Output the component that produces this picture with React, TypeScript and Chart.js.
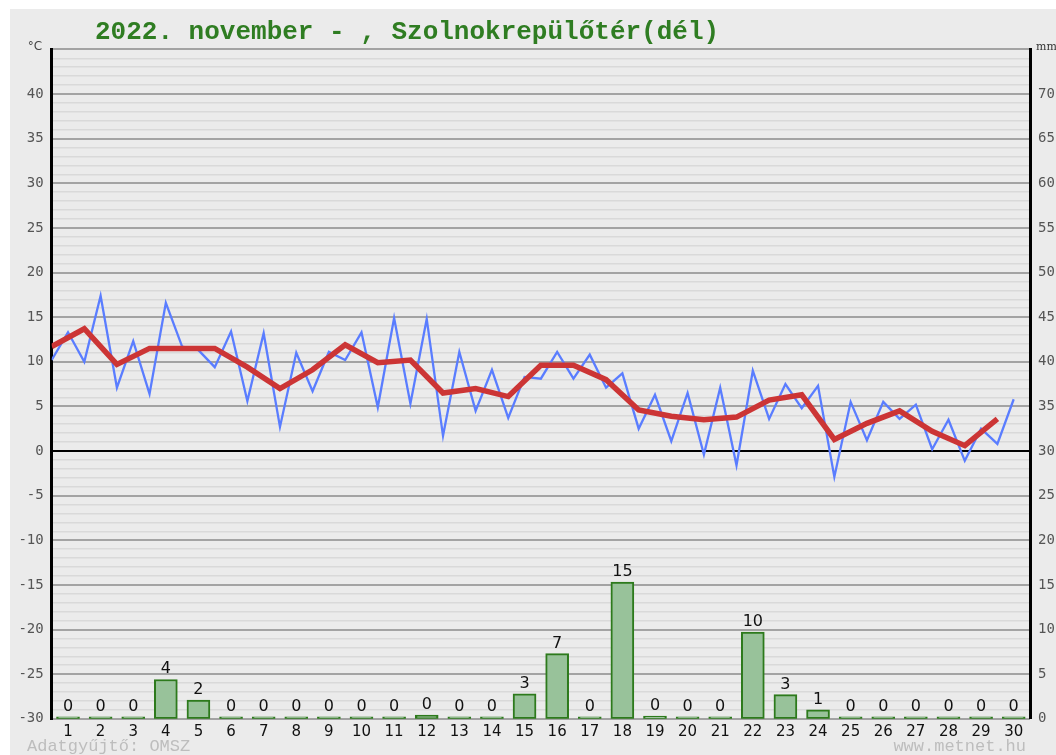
import React, { useEffect, useRef } from "react";
import { Chart, registerables } from "chart.js";

Chart.register(...registerables);

const titleText = "2022. november - , Szolnokrepülőtér(dél)";
const leftUnit = "°C";
const rightUnit = "mm";
const sourceText = "Adatgyűjtő: OMSZ";
const siteText = "www.metnet.hu";

const dayLabels = [
  "1", "2", "3", "4", "5", "6", "7", "8", "9", "10",
  "11", "12", "13", "14", "15", "16", "17", "18", "19", "20",
  "21", "22", "23", "24", "25", "26", "27", "28", "29", "30",
];

// daily mean temperature (°C), one value per day (plotted at day start)
const dailyMeanTemp = [
  11.7, 13.7, 9.7, 11.5, 11.5, 11.5, 9.4, 7.0, 9.1, 11.9,
  9.9, 10.2, 6.5, 7.0, 6.1, 9.6, 9.6, 8.0, 4.6, 3.9,
  3.5, 3.8, 5.7, 6.3, 1.3, 3.1, 4.5, 2.2, 0.6, 3.6,
];

// temperature every half day (°C), alternating night / day readings
const halfDailyTemp = [
  10.2, 13.3, 10.0, 17.4, 7.1, 12.3, 6.4, 16.6, 11.7, 11.3,
  9.4, 13.4, 5.6, 13.2, 2.7, 11.0, 6.7, 11.1, 10.2, 13.3,
  4.9, 14.9, 5.3, 14.8, 1.7, 11.1, 4.5, 9.1, 3.7, 8.3,
  8.1, 11.1, 8.1, 10.8, 7.1, 8.7, 2.5, 6.3, 1.1, 6.5,
  -0.4, 7.1, -1.6, 9.0, 3.6, 7.5, 4.8, 7.3, -2.9, 5.5,
  1.2, 5.5, 3.6, 5.2, 0.2, 3.5, -1.1, 2.5, 0.8, 5.8,
];

// daily precipitation (mm)
const precipitation = [
  0, 0, 0.2, 4.4, 2.1, 0, 0.2, 0.2, 0, 0,
  0, 0.4, 0, 0, 2.8, 7.3, 0, 15.3, 0.3, 0,
  0, 9.7, 2.7, 1.0, 0, 0, 0, 0, 0, 0,
];

const textPlugin = {
  id: "extraTexts",
  afterDatasetsDraw(chart: any) {
    const ctx = chart.ctx;
    const meta = chart.getDatasetMeta(2);
    ctx.save();
    ctx.fillStyle = "#111";
    ctx.font = "16px 'DejaVu Sans', sans-serif";
    ctx.textAlign = "center";
    ctx.textBaseline = "alphabetic";
    meta.data.forEach((el: any, i: number) => {
      ctx.fillText(String(Math.round(precipitation[i])), el.x, el.y - 6);
    });
    ctx.restore();
  },
  afterDraw(chart: any) {
    const ctx = chart.ctx;
    const w = chart.width;
    ctx.save();
    ctx.textBaseline = "alphabetic";
    ctx.textAlign = "left";
    ctx.fillStyle = "#2f7d22";
    ctx.font = "bold 26px 'Liberation Mono', monospace";
    ctx.fillText(titleText, 85, 30);

    ctx.fillStyle = "#444";
    ctx.font = "12px 'DejaVu Sans', sans-serif";
    ctx.textAlign = "center";
    ctx.fillText(leftUnit, 25, 41);

    ctx.textAlign = "left";
    ctx.font = "11px 'DejaVu Serif', serif";
    ctx.fillStyle = "#333";
    ctx.fillText(rightUnit, 1026, 41);

    ctx.fillStyle = "#bdbdbd";
    ctx.font = "17px 'Liberation Mono', monospace";
    ctx.textAlign = "left";
    ctx.fillText(sourceText, 17, 742);
    ctx.textAlign = "right";
    ctx.fillText(siteText, w - 30, 742);
    ctx.restore();
  },
};

export default function App() {
  const canvasRef = useRef<HTMLCanvasElement | null>(null);

  useEffect(() => {
    if (!canvasRef.current) return;
    const chart = new Chart(canvasRef.current, {
      type: "line",
      data: {
        datasets: [
          {
            type: "line",
            data: dailyMeanTemp.map((v, i) => ({ x: i, y: v })),
            borderColor: "#cc3535",
            borderWidth: 5.5,
            pointRadius: 0,
            tension: 0,
            xAxisID: "x",
            yAxisID: "y",
          },
          {
            type: "line",
            data: halfDailyTemp.map((v, i) => ({ x: i / 2, y: v })),
            borderColor: "#5a7dff",
            borderWidth: 2.3,
            pointRadius: 0,
            tension: 0,
            xAxisID: "x",
            yAxisID: "y",
          },
          {
            type: "bar",
            data: precipitation.map((v, i) => ({ x: i + 0.5, y: v })),
            backgroundColor: "#98c29a",
            borderColor: "#2d7a1c",
            borderWidth: 2,
            borderSkipped: false,
            minBarLength: 2,
            barThickness: 23,
            xAxisID: "x",
            yAxisID: "y2",
          } as any,
        ],
      },
      options: {
        animation: false,
        responsive: true,
        maintainAspectRatio: false,
        devicePixelRatio: 1,
        events: [],
        layout: { padding: { top: 40.4, left: 0, right: 0, bottom: 0 } },
        plugins: { legend: { display: false }, tooltip: { enabled: false }, title: { display: false } },
        scales: {
          x: {
            type: "linear",
            position: "bottom",
            min: 0,
            max: 30,
            offset: false,
            afterBuildTicks: (s: any) => {
              s.ticks = dayLabels.map((_, i) => ({ value: i + 0.5 }));
            },
            ticks: {
              autoSkip: false,
              maxRotation: 0,
              minRotation: 0,
              padding: 4,
              color: "#111",
              font: { family: "'DejaVu Sans', sans-serif", size: 15 },
              callback: (_v: any, i: number) => dayLabels[i],
            },
            grid: { display: false, drawTicks: false, offset: false },
            border: { display: false },
            afterFit: (s: any) => {
              s.height = 36.25;
            },
          },
          y: {
            type: "linear",
            position: "left",
            min: -30,
            max: 45,
            ticks: {
              stepSize: 1,
              maxTicksLimit: 200,
              autoSkip: false,
              padding: 8,
              color: "#555",
              font: { family: "'DejaVu Sans Mono', monospace", size: 14 },
              callback: (v: any) => (v % 5 === 0 && v !== 45 ? String(v) : ""),
            },
            grid: {
              drawTicks: false,
              color: (c: any) =>
                c.tick.value === 0 ? "#000" : c.tick.value % 5 === 0 ? "#a3a3a3" : "#d9d9d9",
              lineWidth: (c: any) => (c.tick.value % 5 === 0 ? 2 : 1.5),
            },
            border: { display: true, color: "#000", width: 3 },
            afterFit: (s: any) => {
              s.width = 41.7;
            },
          },
          y2: {
            type: "linear",
            position: "right",
            min: 0,
            max: 75,
            ticks: {
              stepSize: 5,
              autoSkip: false,
              padding: 8,
              color: "#555",
              font: { family: "'DejaVu Sans Mono', monospace", size: 14 },
              callback: (v: any) => (v !== 75 ? String(v) : ""),
            },
            grid: { display: false, drawTicks: false },
            border: { display: true, color: "#000", width: 3 },
            afterFit: (s: any) => {
              s.width = 26;
            },
          },
        },
      } as any,
      plugins: [textPlugin],
    });
    return () => chart.destroy();
  }, []);

  return (
    <div
      style={{
        position: "fixed",
        left: 10,
        top: 9,
        width: 1046,
        height: 746,
        background: "#ebebeb",
      }}
    >
      <canvas ref={canvasRef} />
    </div>
  );
}
